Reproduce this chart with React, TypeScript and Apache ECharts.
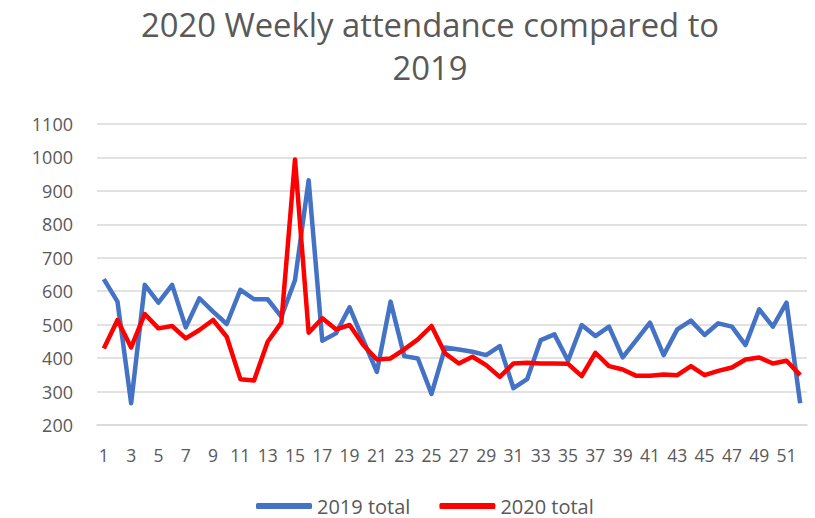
import React, { useEffect, useRef } from "react";
import * as echarts from "echarts";

const weeks: string[] = Array.from({ length: 52 }, (_, i) => String(i + 1));

const total2019: number[] = [
  636, 569, 265, 619, 566, 619, 492, 579, 539, 502,
  604, 576, 576, 524, 633, 932, 452, 474, 552, 454,
  359, 569, 406, 399, 293, 432, 426, 419, 409, 436,
  310, 337, 454, 471, 392, 499, 466, 494, 402, 454,
  506, 409, 486, 512, 469, 504, 494, 439, 546, 494,
  566, 265,
];

const total2020: number[] = [
  429, 514, 432, 532, 489, 496, 459, 484, 514, 464,
  337, 333, 449, 506, 994, 476, 519, 486, 499, 439,
  396, 399, 426, 456, 496, 414, 384, 404, 379, 344,
  384, 386, 384, 384, 383, 346, 416, 376, 366, 347,
  347, 351, 349, 376, 349, 362, 372, 396, 402, 384,
  392, 349,
];

const yTicks = { min: 200, max: 1100, interval: 100 };

const FONT = "'Open Sans', 'Noto Sans', sans-serif";
const TEXT = "#595959";

export default function App() {
  const ref = useRef<HTMLDivElement>(null);
  useEffect(() => {
    document.body.style.margin = "0";
    if (!ref.current) return;
    const chart = echarts.init(ref.current, undefined, { renderer: "svg" });
    chart.setOption({
      animation: false,
      backgroundColor: "#ffffff",
      title: {
        text: "2020 Weekly attendance compared to\n2019",
        left: 425,
        top: -2,
        textAlign: "center",
        textStyle: {
          fontFamily: FONT,
          fontSize: 32.8,
          fontWeight: "normal",
          color: TEXT,
          lineHeight: 43,
        },
      },
      legend: {
        top: 495,
        left: 256,
        padding: 0,
        itemWidth: 56,
        itemHeight: 6,
        itemGap: 29,
        icon: "roundRect",
        textStyle: { fontFamily: FONT, fontSize: 20, lineHeight: 22, color: TEXT },
        data: ["2019 total", "2020 total"],
      },
      grid: { left: 97, right: 8, top: 124, bottom: 93, containLabel: false },
      xAxis: {
        type: "category",
        data: weeks,
        boundaryGap: true,
        axisLine: { show: true, lineStyle: { color: "#d9d9d9", width: 1.5 } },
        axisTick: { show: false },
        axisLabel: {
          interval: 1,
          fontFamily: FONT,
          fontSize: 17.5,
          color: TEXT,
          margin: 21,
        },
      },
      yAxis: {
        type: "value",
        min: yTicks.min,
        max: yTicks.max,
        interval: yTicks.interval,
        axisLine: { show: false },
        axisTick: { show: false },
        splitLine: { lineStyle: { color: "#d9d9d9", width: 1.5 } },
        axisLabel: {
          fontFamily: FONT,
          fontSize: 18,
          color: TEXT,
          margin: 24,
          formatter: (v: number) => String(v),
        },
      },
      series: [
        {
          name: "2019 total",
          type: "line",
          data: total2019,
          symbol: "none",
          color: "#4472C4",
          lineStyle: { width: 4.5, color: "#4472C4", join: "round" },
        },
        {
          name: "2020 total",
          type: "line",
          data: total2020,
          symbol: "none",
          color: "#FF0000",
          lineStyle: { width: 4.5, color: "#FF0000", join: "round" },
        },
      ],
    });
    return () => chart.dispose();
  }, []);
  return <div ref={ref} style={{ width: 815, height: 518 }} />;
}
